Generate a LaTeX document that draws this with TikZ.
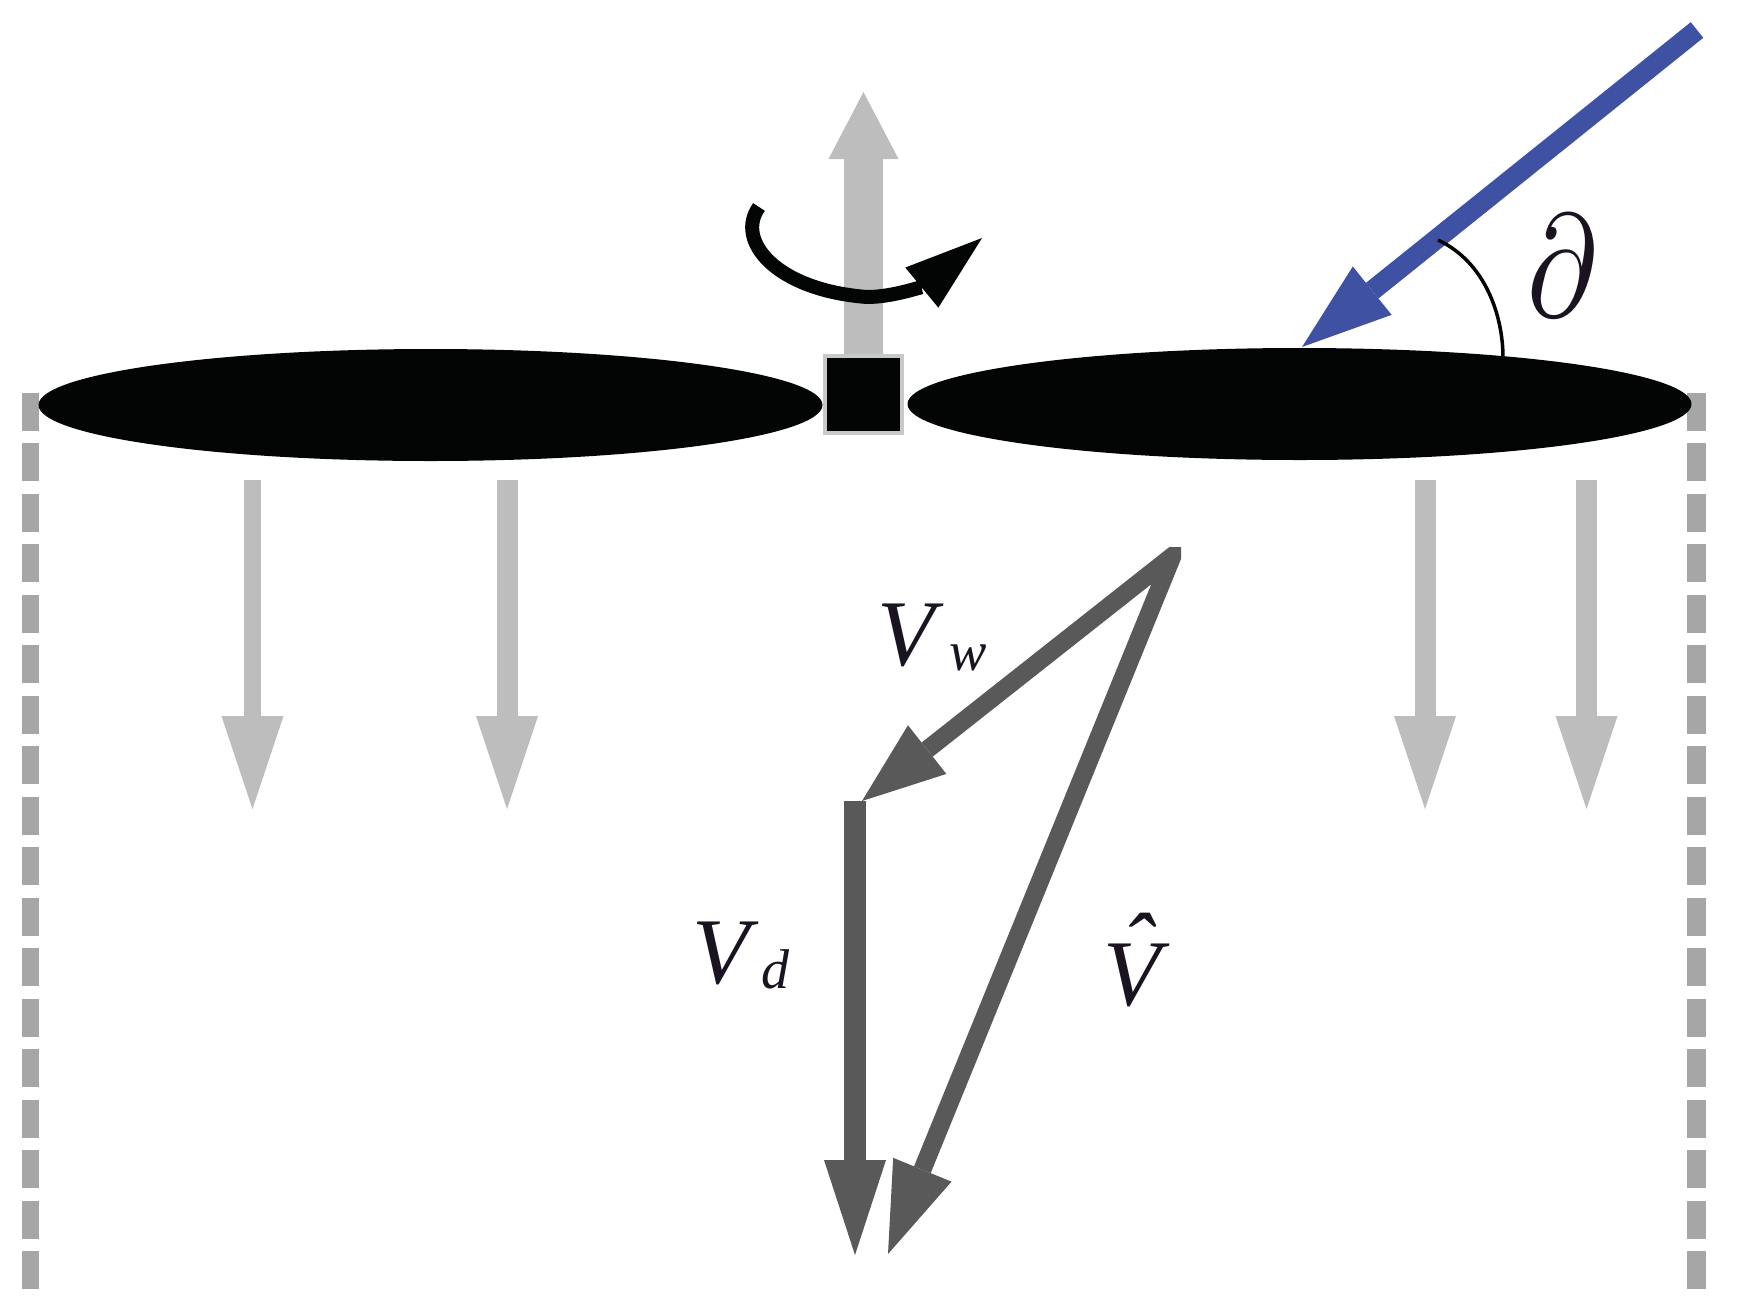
\documentclass[tikz,border=0pt]{standalone}
\usepackage{fontspec}
\setmainfont{Liberation Serif}
\usetikzlibrary{arrows.meta,shapes.geometric}
\definecolor{bladeblack}{HTML}{030504}
\definecolor{lightarrow}{HTML}{BDBDBD}
\definecolor{dashgray}{HTML}{A6A6A6}
\definecolor{darkarrow}{HTML}{595959}
\definecolor{hubedge}{HTML}{C8C8C8}
\definecolor{windblue}{HTML}{3F51A3}
\definecolor{labelink}{HTML}{1A1420}
\tikzset{
  blade/.style={ellipse,fill=bladeblack,inner sep=0pt,minimum width=784pt,minimum height=112pt},
  hubbox/.style={rectangle,fill=bladeblack,draw=hubedge,line width=4pt,inner sep=0pt,minimum width=77pt,minimum height=77pt},
  wake/.style={draw=dashgray,line width=17.5pt,dash pattern=on 38pt off 12.47pt},
  flow/.style={draw=lightarrow,line width=21pt,-{Triangle[length=93pt,width=62pt,line width=0pt]}},
  bigflow/.style={draw=lightarrow,line width=39pt,-{Triangle[length=67pt,width=70pt,line width=0pt]}},
  spin/.style={draw=bladeblack,line width=14pt,-{Triangle[length=78pt,width=52pt,line width=0pt]}},
  wind/.style={draw=windblue,line width=20pt,-{Triangle[length=90pt,width=62pt,line width=0pt]}},
  vec/.style={draw=darkarrow},
  lab/.style={inner sep=0pt,text=labelink,font=\fontsize{94}{100}\selectfont\itshape}
}
\begin{document}
\begin{tikzpicture}[x=1pt,y=-1pt]
\useasboundingbox (0,0) rectangle (1745,1312);
% wake boundaries
\coordinate (wlt) at (30.5,393); \coordinate (wlb) at (30.5,1290);
\coordinate (wrt) at (1696.5,393); \coordinate (wrb) at (1696.5,1290);
\draw[wake] (wlt) -- (wlb);
\draw[wake,line width=19pt] (wrt) -- (wrb);
% thrust arrow, hub and blades
\coordinate (hubtop) at (863.5,356); \coordinate (thrust) at (863.5,92);
\draw[bigflow] (hubtop) -- (thrust);
\node[hubbox] (hub) at (863.5,394.5) {};
\node[blade] (bl) at (430.5,405) {};
\node[blade] (br) at (1299.5,404) {};
% downwash
\coordinate (a1s) at (252.5,480); \coordinate (a1e) at (252.5,809);
\coordinate (a2s) at (507,480); \coordinate (a2e) at (507,809);
\coordinate (a3s) at (1425,480); \coordinate (a3e) at (1425,809);
\coordinate (a4s) at (1586.5,480); \coordinate (a4e) at (1586.5,809);
\draw[flow,line width=17.5pt] (a1s) -- (a1e);
\draw[flow] (a2s) -- (a2e);
\draw[flow] (a3s) -- (a3e);
\draw[flow] (a4s) -- (a4e);
% rotation arrow
\coordinate (rs) at (759,207); \coordinate (rm) at (867,297); \coordinate (re) at (982,238);
\draw[spin] (rs) .. controls (735,240) and (775,290) .. (rm) .. controls (895,297) and (925,285) .. (re);
% wind arrow and angle
\coordinate (ws) at (1697,30); \coordinate (we) at (1302,347);
\draw[wind] (ws) -- (we);
\coordinate (ang1) at (1438,240); \coordinate (ang2) at (1503,358);
\draw[draw=bladeblack,line width=3.5pt] (ang1) .. controls (1485,262) and (1503,315) .. (ang2);
\node[inner sep=0pt,text=labelink] (partial) at (1562,266) {\scalebox{11.8}[14.6]{$\partial$}};
% velocity triangle
\coordinate (apex) at (1172.5,556); \coordinate (vwtip) at (862,801); \coordinate (vhtip) at (888,1254);
\coordinate (vdtop) at (855,801); \coordinate (vdtip) at (855,1255);
\begin{scope}
\clip (820,547) rectangle (1181,1270);
\draw[vec,line width=18pt,line join=miter,{Triangle[length=83pt,width=62pt,line width=0pt]}-{Triangle[length=91pt,width=63pt,line width=0pt]}] (vwtip) -- (apex) -- (vhtip);
\end{scope}
\draw[vec,line width=22pt,-{Triangle[length=95pt,width=62pt,line width=0pt]}] (vdtop) -- (vdtip);
% labels
\node[lab] (vw) at (932,637) {V\kern 15pt\raisebox{-5pt}{\fontsize{56}{60}\selectfont w}};
\node[lab] (vd) at (741,955) {V\kern 12pt\raisebox{-5pt}{\fontsize{56}{60}\selectfont d}};
\node[lab] (vh) at (1132,975) {\rlap{\kern 18pt\smash{\raisebox{27pt}{ˆ}}}V};
\end{tikzpicture}
\end{document}
